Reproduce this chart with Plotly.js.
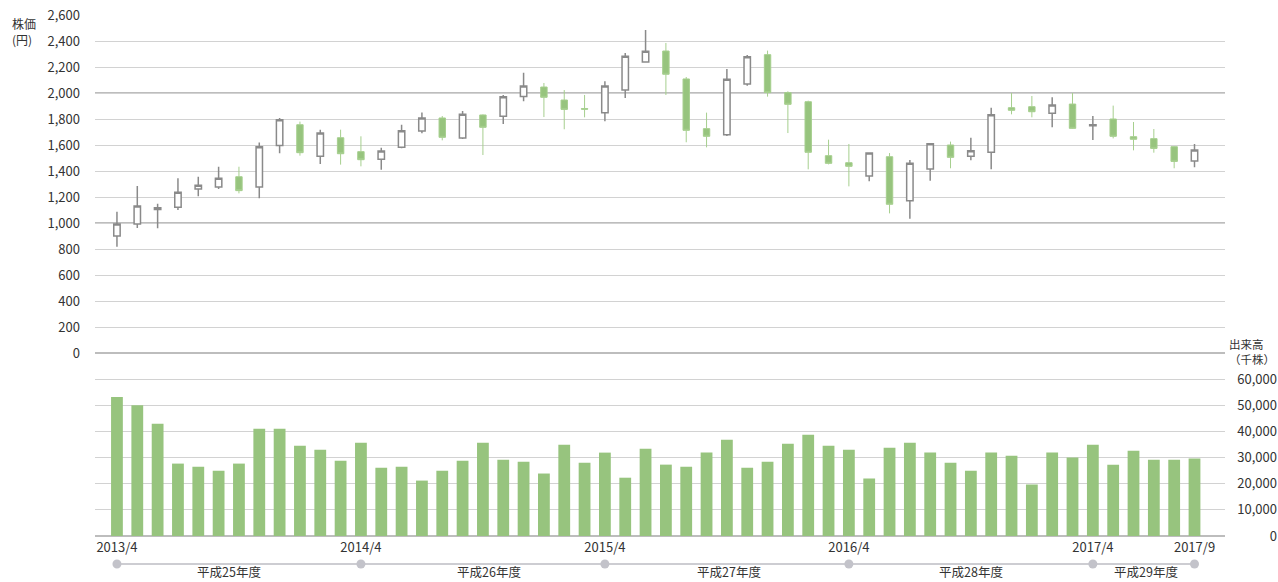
<!DOCTYPE html>
<html>
<head>
<meta charset="utf-8">
<script src="https://cdn.plot.ly/plotly-3.0.1.min.js"></script>
<style>html,body{margin:0;padding:0;background:#fff;}#chart{width:1278px;height:582px;}</style>
</head>
<body>
<div id="chart"></div>
<script>
var months = ['2013/4','2013/5','2013/6','2013/7','2013/8','2013/9','2013/10','2013/11','2013/12','2014/1','2014/2','2014/3',
  '2014/4','2014/5','2014/6','2014/7','2014/8','2014/9','2014/10','2014/11','2014/12','2015/1','2015/2','2015/3',
  '2015/4','2015/5','2015/6','2015/7','2015/8','2015/9','2015/10','2015/11','2015/12','2016/1','2016/2','2016/3',
  '2016/4','2016/5','2016/6','2016/7','2016/8','2016/9','2016/10','2016/11','2016/12','2017/1','2017/2','2017/3',
  '2017/4','2017/5','2017/6','2017/7','2017/8','2017/9'];

var openP  = [900,992,1103,1121,1262,1277,1356,1277,1597,1756,1513,1656,
  1549,1490,1582,1708,1808,1654,1831,1821,1974,2046,1946,1880,
  1849,2023,2238,2323,2108,1726,1679,2069,2295,2003,1933,1518,
  1464,1362,1510,1172,1415,1600,1513,1544,1887,1895,1844,1915,
  1748,1800,1664,1649,1587,1477];
var highP  = [1087,1285,1149,1344,1356,1433,1433,1620,1808,1780,1718,1718,
  1667,1579,1756,1851,1823,1862,1835,1985,2156,2077,2023,1985,
  2090,2308,2485,2385,2123,1849,2185,2292,2326,2013,1941,1641,
  1608,1545,1538,1485,1615,1626,1656,1887,2000,1977,1967,2000,
  1823,1903,1777,1723,1590,1608];
var lowP   = [818,962,959,1100,1205,1262,1228,1190,1536,1518,1454,1449,
  1436,1410,1575,1690,1636,1646,1523,1762,1936,1815,1721,1813,
  1782,1962,2238,1985,1621,1582,1669,2056,1972,1692,1413,1451,
  1282,1321,1074,1033,1326,1421,1482,1413,1836,1813,1736,1725,
  1638,1651,1559,1541,1421,1428];
var closeP = [992,1131,1118,1236,1290,1344,1249,1587,1795,1541,1692,1533,
  1487,1554,1710,1808,1659,1836,1736,1972,2054,1967,1874,1876,
  2054,2282,2321,2144,1713,1667,2105,2279,2003,1913,1544,1459,
  1436,1538,1144,1459,1610,1505,1556,1833,1867,1856,1908,1728,
  1755,1667,1644,1574,1474,1562];

var volume = [53200,50000,42900,27700,26500,25000,27700,41000,41000,34500,33000,28800,
  35700,26100,26500,21200,25000,28800,35700,29200,28400,23900,34900,28000,
  31900,22300,33400,27300,26500,31900,36800,26100,28400,35300,38700,34500,
  33000,22000,33800,35700,31900,28000,25000,31900,30700,19700,31900,30000,
  34900,27300,32600,29200,29200,29600];

var axisTicks = ['2013/4','2014/4','2015/4','2016/4','2017/4','2017/9'];
var fyLabels = ['平成25年度','平成26年度','平成27年度','平成28年度','平成29年度'];
var fyLabelPos = [5.5, 18.3, 30.1, 42.0, 50.6];
var priceTicks = [0,200,400,600,800,1000,1200,1400,1600,1800,2000,2200,2400,2600];
var volumeTicks = [0,10000,20000,30000,40000,50000,60000];

var FONT = '"Noto Sans CJK JP", "Noto Sans", sans-serif';
var TXT = '#333333';
var GREEN = '#97c47e';

var candle = {
  type: 'candlestick', x: months, open: openP, high: highP, low: lowP, close: closeP,
  xaxis: 'x', yaxis: 'y', whiskerwidth: 0,
  increasing: {line: {color: '#8a8a8a', width: 1.5}, fillcolor: '#ffffff'},
  decreasing: {line: {color: '#a6cf8e', width: 1}, fillcolor: GREEN},
  hoverinfo: 'skip', showlegend: false
};
var bars = {
  type: 'bar', x: months, y: volume, xaxis: 'x', yaxis: 'y2',
  marker: {color: GREEN, line: {width: 0}}, hoverinfo: 'skip', showlegend: false
};

var yTL = -0.0537;
var shapes = [
  {type:'line', xref:'x domain', yref:'y', x0:0, x1:1, y0:1000, y1:1000, line:{color:'#bdbdbd', width:2}, layer:'below'},
  {type:'line', xref:'x domain', yref:'y', x0:0, x1:1, y0:2000, y1:2000, line:{color:'#bdbdbd', width:2}, layer:'below'},
  {type:'line', xref:'x', yref:'paper', x0:axisTicks[0], x1:axisTicks[axisTicks.length-1], y0:yTL, y1:yTL, line:{color:'#cdcdd2', width:2}}
];
axisTicks.forEach(function(t){
  shapes.push({type:'circle', xref:'x', yref:'paper', xsizemode:'pixel', ysizemode:'pixel',
    xanchor:t, yanchor:yTL, x0:-4.5, x1:4.5, y0:-4.5, y1:4.5,
    fillcolor:'#c3c3ca', line:{width:0}});
});

var annotations = [];
fyLabels.forEach(function(l, i){
  annotations.push({xref:'x', yref:'paper', x:fyLabelPos[i], y:-0.0875, text:l, showarrow:false,
    xanchor:'center', yanchor:'bottom', borderpad:0, font:{family:FONT, size:12.5, color:TXT}});
});
annotations.push({xref:'paper', yref:'paper', x:-0.0719, y:1.004, xanchor:'left', yanchor:'top',
  align:'left', text:'株価<br>(円)', showarrow:false, font:{family:FONT, size:12, color:TXT}});
annotations.push({xref:'paper', yref:'paper', x:0.9565, y:0.388, xanchor:'left', yanchor:'top',
  align:'left', text:'出来高<br>（千株）', showarrow:false, font:{family:FONT, size:11.5, color:TXT}});

var layout = {
  width: 1278, height: 582,
  margin: {l: 95, r: 0, t: 15, b: 46},
  paper_bgcolor: '#ffffff', plot_bgcolor: '#ffffff',
  showlegend: false, bargap: 0.42, boxgap: 0.55,
  font: {family: FONT, size: 13, color: TXT},
  xaxis: {type: 'category', domain: [0, 0.9552], range: [-1.08, 54.5], anchor: 'y2',
    tickvals: axisTicks, ticktext: axisTicks, showgrid: false, showline: false, zeroline: false,
    ticks: '', ticklabelstandoff: 2, tickfont: {family: FONT, size: 13, color: TXT},
    rangeslider: {visible: false}, fixedrange: true},
  yaxis: {domain: [0.3512, 1], range: [0, 2600], tickvals: priceTicks, tickformat: ',d',
    gridcolor: '#d2d2d2', gridwidth: 1, zeroline: true, zerolinecolor: '#bdbdbd', zerolinewidth: 2,
    showline: false, ticks: '', ticklabelstandoff: 14, anchor: 'x',
    tickfont: {family: FONT, size: 13, color: TXT}},
  yaxis2: {domain: [0, 0.3512], range: [0, 70000], tickvals: volumeTicks, tickformat: ',d',
    gridcolor: '#d2d2d2', gridwidth: 1, zeroline: true, zerolinecolor: '#bdbdbd', zerolinewidth: 2,
    showline: false, ticks: '', anchor: 'free', position: 1, side: 'left', ticklabelstandoff: 1,
    tickfont: {family: FONT, size: 13, color: TXT}},
  shapes: shapes,
  annotations: annotations
};

Plotly.newPlot('chart', [bars, candle], layout, {staticPlot: true, displayModeBar: false});
</script>
</body>
</html>
